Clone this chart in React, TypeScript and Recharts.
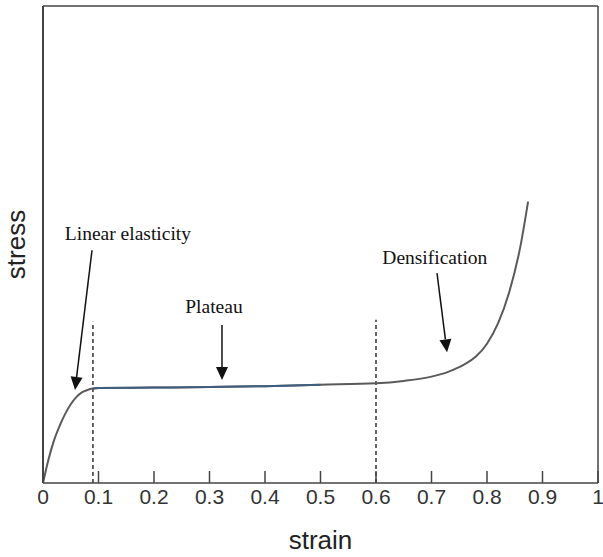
import { LineChart, Line, XAxis, YAxis, ReferenceLine, ReferenceDot } from 'recharts';

// strain (x) and stress (arbitrary units)
const strainValues = [0, 0.01, 0.02, 0.03, 0.04, 0.05, 0.06, 0.07, 0.08, 0.09, 0.1, 0.2, 0.3, 0.4, 0.5, 0.6, 0.65, 0.7, 0.73, 0.76, 0.78, 0.8, 0.82, 0.84, 0.86, 0.874];
const stressValues = [0, 0.5, 0.9, 1.2, 1.45, 1.65, 1.8, 1.9, 1.95, 1.98, 1.99, 2.0, 2.01, 2.03, 2.06, 2.09, 2.14, 2.23, 2.33, 2.49, 2.65, 2.92, 3.35, 4.0, 4.95, 5.9];
const strainTicks = [0, 0.1, 0.2, 0.3, 0.4, 0.5, 0.6, 0.7, 0.8, 0.9, 1];

// region boundaries (dashed lines)
const boundaryStrains = [0.09, 0.6];
const boundaryTops = [3.38, 3.42];

// annotations: label text, label position, arrow start and tip
const annotationLabels = ['Linear elasticity', 'Plateau', 'Densification'];
const labelPoints = [[0.153, 5.24], [0.308, 3.69], [0.706, 4.72]];
const arrowStarts = [[0.0883, 4.88], [0.3225, 3.31], [0.7099, 4.4]];
const arrowTips = [[0.0577, 1.95], [0.3225, 2.16], [0.728, 2.74]];

const data = strainValues.map((s, i) => ({
  strain: s,
  stress: stressValues[i],
  plateau: s >= 0.09 && s <= 0.5 ? stressValues[i] : null,
}));

const StrainTick = (props: any) => {
  const { x, y, payload } = props;
  return (
    <g>
      <line x1={x} x2={x} y1={y} y2={y - 12} stroke="#444" strokeWidth={1.5} />
      <text x={x} y={y + 21} textAnchor="middle" fontSize={21} fill="#333" fontFamily="Liberation Sans, Arial, sans-serif">
        {String(payload.value)}
      </text>
    </g>
  );
};

const Arrow = (props: any) => {
  const { x1, y1, x2, y2 } = props;
  const dx = x2 - x1;
  const dy = y2 - y1;
  const len = Math.sqrt(dx * dx + dy * dy);
  const ux = dx / len;
  const uy = dy / len;
  const head = 13;
  const half = 6;
  const bx = x2 - ux * head;
  const by = y2 - uy * head;
  const pts = `${x2},${y2} ${bx - uy * half},${by + ux * half} ${bx + uy * half},${by - ux * half}`;
  return (
    <g>
      <line x1={x1} y1={y1} x2={bx} y2={by} stroke="#111" strokeWidth={1.5} />
      <polygon points={pts} fill="#111" />
    </g>
  );
};

const makeLabel = (text: string) => (props: any) => (
  <text x={props.cx} y={props.cy} textAnchor="middle" dominantBaseline="central" fontSize={19.5} fill="#111" fontFamily="Liberation Serif, Times New Roman, serif">
    {text}
  </text>
);

export default function App() {
  return (
    <div style={{ position: 'absolute', left: 0, top: 0, background: '#fff' }}>
      <LineChart width={603} height={557} data={data} margin={{ top: 0, right: 0, bottom: 0, left: 0 }}>
        <XAxis
          dataKey="strain"
          type="number"
          domain={[0, 1]}
          ticks={strainTicks}
          interval={0}
          height={74}
          tickSize={0}
          tickMargin={0}
          tickLine={false}
          tick={<StrainTick />}
          axisLine={{ stroke: '#444', strokeWidth: 1.5 }}
          label={{ value: 'strain', position: 'insideBottom', offset: 8, fontSize: 26, fill: '#222', fontFamily: 'Liberation Sans, Arial, sans-serif' }}
        />
        <XAxis xAxisId="top" orientation="top" type="number" domain={[0, 1]} height={6} tick={false} tickLine={false} axisLine={{ stroke: '#444', strokeWidth: 1.5 }} />
        <YAxis
          type="number"
          domain={[0, 10]}
          width={43}
          tick={false}
          tickLine={false}
          axisLine={{ stroke: '#444', strokeWidth: 2 }}
          label={{ value: 'stress', angle: -90, position: 'insideLeft', offset: 16, fontSize: 26, fill: '#222', fontFamily: 'Liberation Sans, Arial, sans-serif', style: { textAnchor: 'middle' } }}
        />
        <YAxis yAxisId="right" orientation="right" type="number" domain={[0, 10]} width={5} tick={false} tickLine={false} axisLine={{ stroke: '#444', strokeWidth: 1.5 }} />
        {boundaryStrains.map((s, i) => (
          <ReferenceLine
            key={`b${i}`}
            segment={[{ x: s, y: 0 }, { x: s, y: boundaryTops[i] }]}
            stroke="#111"
            strokeWidth={1.3}
            strokeDasharray="4 3"
          />
        ))}
        <Line type="monotone" dataKey="stress" stroke="#5a5a5a" strokeWidth={2} dot={false} isAnimationActive={false} />
        <Line type="monotone" dataKey="plateau" stroke="#3f5f80" strokeWidth={2} dot={false} isAnimationActive={false} />
        {annotationLabels.map((t, i) => (
          <ReferenceLine
            key={`a${i}`}
            segment={[{ x: arrowStarts[i][0], y: arrowStarts[i][1] }, { x: arrowTips[i][0], y: arrowTips[i][1] }]}
            shape={<Arrow />}
          />
        ))}
        {annotationLabels.map((t, i) => (
          <ReferenceDot key={`l${i}`} x={labelPoints[i][0]} y={labelPoints[i][1]} r={0} shape={makeLabel(t)} />
        ))}
      </LineChart>
    </div>
  );
}
